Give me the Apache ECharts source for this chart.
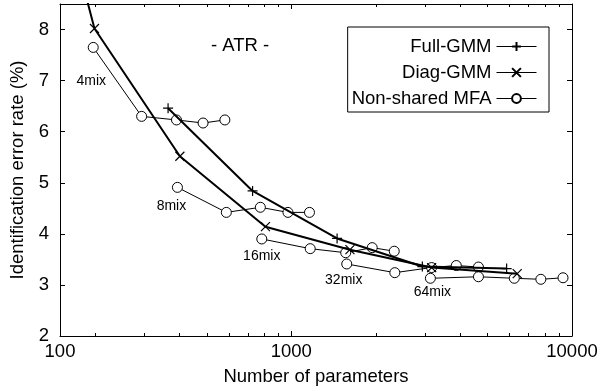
<!DOCTYPE html>
<html>
<head>
<meta charset="utf-8">
<script src="https://cdn.jsdelivr.net/npm/echarts@6/dist/echarts.min.js"></script>
<style>
  html, body { margin: 0; padding: 0; background: #fff; }
  #chart { width: 611px; height: 391px; }
</style>
</head>
<body>
<div id="chart"></div>
<script>
// values (x = number of parameters, y = error rate %)
const xTickLabels = ['100', '1000', '10000']
const fullParams = [364, 728, 1456, 2930, 5850]
const fullErr = [6.46, 4.84, 3.91, 3.36, 3.32]
const diagParams = [100, 199, 401, 809, 1618, 3162, 6380]
const diagErr = [14.3, 8.02, 5.52, 4.14, 3.69, 3.34, 3.22]

const mixNames = ['4mix', '8mix', '16mix', '32mix', '64mix']
const mfaParams = [
    [197, 293, 390, 485, 580],
    [393, 587, 776, 973, 1161],
    [785, 1168, 1563, 1942, 2327],
    [1576, 2338, 3162, 3870, 4642],
    [3130, 4642, 6229, 7745, 9290]
]
const mfaErr = [
    [7.65, 6.30, 6.23, 6.17, 6.23],
    [4.91, 4.42, 4.52, 4.42, 4.42],
    [3.90, 3.71, 3.63, 3.73, 3.66],
    [3.41, 3.24, 3.34, 3.38, 3.35],
    [3.13, 3.16, 3.13, 3.11, 3.14]
]

const font = 'Liberation Sans, Arial, Helvetica, sans-serif'
const fs = 18.5
const xMin = 150, xMax = 10000

// minor ticks 2..9 of each decade, in log10 units for the helper axes
let minorTicks = []
;[100, 1000].forEach(d => {
    for (let k = 2; k <= 9; k++) {
        if (k * d > xMin) minorTicks.push(Math.log10(k * d))
    }
})

// where the "Nmix" labels sit relative to the first point of each group
const mixLabelDist = [21, 6, 5, 4, 1]
const mixLabelDx = [-2, -6, 0, -3, 2]

const plusPath = 'path://M5,0L5,10M0,5L10,5'
const crossPath = 'path://M0,0L10,10M0,10L10,0'

let series = [
    {
        name: 'Full-GMM',
        type: 'line',
        data: fullParams.map((p, i) => [p, fullErr[i]]),
        symbol: plusPath,
        symbolSize: 10,
        lineStyle: { color: '#000', width: 2 },
        itemStyle: { color: '#000', borderColor: '#000', borderWidth: 1.2 },
        z: 3
    },
    {
        name: 'Diag-GMM',
        type: 'line',
        data: diagParams.map((p, i) => [p, diagErr[i]]),
        symbol: crossPath,
        symbolSize: 9,
        lineStyle: { color: '#000', width: 2 },
        itemStyle: { color: '#000', borderColor: '#000', borderWidth: 1.2 },
        z: 3
    }
]

mfaParams.forEach((grp, g) => {
    series.push({
        name: 'Non-shared MFA',
        type: 'line',
        data: grp.map((p, i) => {
            let item = { value: [p, mfaErr[g][i]] }
            if (i === 0) {
                item.label = {
                    show: true,
                    formatter: mixNames[g],
                    position: 'bottom',
                    distance: mixLabelDist[g],
                    offset: [mixLabelDx[g], 0],
                    color: '#000',
                    fontSize: 14,
                    fontFamily: font
                }
            }
            return item
        }),
        symbol: 'circle',
        symbolSize: 10,
        lineStyle: { color: '#000', width: 1 },
        itemStyle: { color: '#fff', borderColor: '#000', borderWidth: 1 },
        z: 2
    })
})

const axisLine = { show: true, lineStyle: { color: '#000', width: 1 } }

let EC = echarts.init(document.getElementById('chart'))
let option = {
    animation: false,
    backgroundColor: '#fff',
    textStyle: { fontFamily: font },
    title: {
        text: '- ATR -',
        left: 206,
        top: 31,
        textStyle: { fontSize: fs, fontWeight: 'normal', color: '#000', fontFamily: font }
    },
    legend: {
        data: ['Full-GMM', 'Diag-GMM', 'Non-shared MFA'],
        orient: 'vertical',
        right: 62,
        top: 27,
        align: 'right',
        itemGap: 7,
        itemWidth: 40,
        itemHeight: 11,
        padding: [10, 12, 4, 4],
        borderColor: '#000',
        borderWidth: 1,
        borderRadius: 0,
        lineStyle: { width: 1 },
        textStyle: { fontSize: fs, color: '#000', fontFamily: font }
    },
    grid: { left: 60, right: 39, top: 4, bottom: 54 },
    xAxis: [
        {
            type: 'log',
            min: xMin,
            max: xMax,
            position: 'bottom',
            axisLine: axisLine,
            axisTick: { inside: true, length: 5, lineStyle: { color: '#000' } },
            axisLabel: {
                color: '#000', fontSize: fs, margin: 6,
                formatter: (v, i) => xTickLabels[i]
            },
            splitLine: { show: false },
            name: 'Number of parameters',
            nameLocation: 'middle',
            nameGap: 31,
            nameTextStyle: { fontSize: fs, color: '#000' }
        },
        {
            type: 'log',
            min: xMin,
            max: xMax,
            position: 'top',
            axisLine: axisLine,
            axisTick: { inside: true, length: 5, lineStyle: { color: '#000' } },
            axisLabel: { show: false },
            splitLine: { show: false }
        },
        {
            type: 'value',
            min: Math.log10(xMin),
            max: Math.log10(xMax),
            position: 'bottom',
            axisLine: { show: false },
            axisTick: { show: true, inside: true, length: 3, customValues: minorTicks, lineStyle: { color: '#000' } },
            axisLabel: { show: false },
            splitLine: { show: false }
        },
        {
            type: 'value',
            min: Math.log10(xMin),
            max: Math.log10(xMax),
            position: 'top',
            axisLine: { show: false },
            axisTick: { show: true, inside: true, length: 3, customValues: minorTicks, lineStyle: { color: '#000' } },
            axisLabel: { show: false },
            splitLine: { show: false }
        }
    ],
    yAxis: [
        {
            type: 'value',
            min: 2,
            max: 8.5,
            interval: 1,
            position: 'left',
            axisLine: axisLine,
            axisTick: { inside: true, length: 5, lineStyle: { color: '#000' } },
            axisLabel: { color: '#000', fontSize: fs, margin: 11, showMaxLabel: false },
            splitLine: { show: false },
            name: 'Identification error rate (%)',
            nameLocation: 'middle',
            nameGap: 33,
            nameTextStyle: { fontSize: fs, color: '#000' }
        },
        {
            type: 'value',
            min: 2,
            max: 8.5,
            interval: 1,
            position: 'right',
            axisLine: axisLine,
            axisTick: { inside: true, length: 5, lineStyle: { color: '#000' } },
            axisLabel: { show: false },
            splitLine: { show: false }
        }
    ],
    series: series
}
EC.setOption(option)
</script>
</body>
</html>
